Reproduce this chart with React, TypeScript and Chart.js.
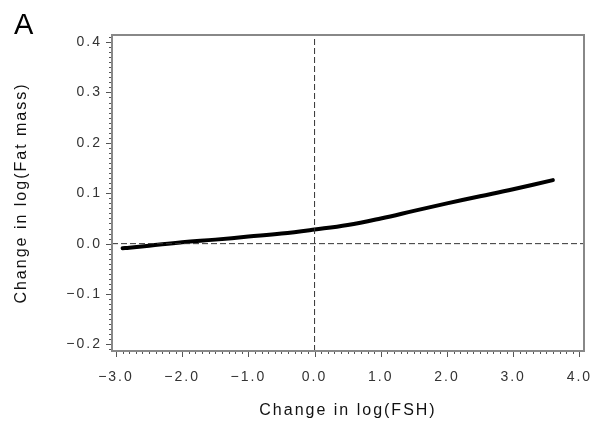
import React, { useEffect, useRef } from 'react';
import { Chart, registerables } from 'chart.js';

Chart.register(...registerables);

// Data
const fshChange = [-2.9, -2.8, -2.5, -2.0, -1.5, -1.0, -0.5, 0.0, 0.5, 1.0, 1.5, 2.0, 2.5, 3.0, 3.6];
const fatMassChange = [-0.009, -0.008, -0.004, 0.003, 0.008, 0.014, 0.020, 0.028, 0.037, 0.050, 0.065, 0.080, 0.094, 0.108, 0.126];
const xTicks = [-3, -2, -1, 0, 1, 2, 3, 4];
const yTicks = [-0.2, -0.1, 0, 0.1, 0.2, 0.3, 0.4];
const xRange = [-3.06, 4.07];
const yRange = [-0.213, 0.414];
const xMinorTicks = Array.from({ length: 71 }, (_, i) => (i - 30) / 10);
const yMinorTicks = Array.from({ length: 63 }, (_, i) => (i - 21) / 100);

const FONT = '"Liberation Sans", Arial, Helvetica, sans-serif';

const fmt = (v: number) => (v < -1e-9 ? '\u2212' : '') + Math.abs(v).toFixed(1);

const spacingPlugin = {
  id: 'spacing',
  beforeUpdate(chart: any) {
    chart.ctx.letterSpacing = '2px';
  },
  beforeDraw(chart: any) {
    chart.ctx.letterSpacing = '2px';
  },
};

const framePlugin = {
  id: 'frame',
  afterDraw(chart: any) {
    const { ctx, chartArea, scales } = chart;
    const { left, right, top, bottom } = chartArea;
    const x = scales.x;
    const y = scales.y;
    ctx.save();
    ctx.letterSpacing = '0px';
    ctx.strokeStyle = '#555';
    ctx.lineWidth = 1;
    ctx.beginPath();
    xMinorTicks.forEach((v) => {
      const px = Math.round(x.getPixelForValue(v)) + 0.5;
      const major = Math.abs(v - Math.round(v)) < 1e-9;
      ctx.moveTo(px, bottom);
      ctx.lineTo(px, bottom + (major ? 6 : 3));
    });
    yMinorTicks.forEach((v) => {
      const py = Math.round(y.getPixelForValue(v)) + 0.5;
      const major = Math.abs(v * 10 - Math.round(v * 10)) < 1e-9;
      ctx.moveTo(left, py);
      ctx.lineTo(left - (major ? 6 : 3), py);
    });
    ctx.stroke();
    ctx.strokeStyle = '#888';
    ctx.lineWidth = 2;
    ctx.strokeRect(left, top, right - left, bottom - top);
    ctx.font = '29px ' + FONT;
    ctx.fillStyle = '#000';
    ctx.textAlign = 'left';
    ctx.textBaseline = 'alphabetic';
    ctx.fillText('A', 14, 34);
    ctx.restore();
  },
};

export default function App() {
  const ref = useRef<HTMLCanvasElement | null>(null);
  useEffect(() => {
    if (!ref.current) return;
    const chart = new Chart(ref.current, {
      type: 'scatter',
      data: {
        datasets: [
          {
            data: [{ x: 0, y: yRange[0] }, { x: 0, y: yRange[1] }],
            showLine: true,
            borderColor: '#333',
            borderWidth: 1,
            borderDash: [6, 3],
            pointRadius: 0,
          },
          {
            data: [{ x: xRange[0], y: 0 }, { x: xRange[1], y: 0 }],
            showLine: true,
            borderColor: '#333',
            borderWidth: 1,
            borderDash: [6, 3],
            pointRadius: 0,
          },
          {
            data: fshChange.map((v, i) => ({ x: v, y: fatMassChange[i] })),
            showLine: true,
            borderColor: '#000',
            borderWidth: 4,
            tension: 0.4,
            pointRadius: 0,
            borderCapStyle: 'round',
          },
        ],
      },
      options: {
        responsive: false,
        animation: false,
        layout: { padding: { top: 35, right: 9, left: 0, bottom: 0 } },
        plugins: { legend: { display: false }, tooltip: { enabled: false } },
        scales: {
          x: {
            type: 'linear',
            min: xRange[0],
            max: xRange[1],
            afterBuildTicks: (s: any) => {
              s.ticks = xTicks.map((v) => ({ value: v }));
            },
            afterFit: (s: any) => {
              s.height = 71;
              s.paddingLeft = 0;
              s.paddingRight = 0;
            },
            grid: { display: false, drawTicks: false },
            border: { display: false },
            ticks: {
              padding: 18,
              color: '#333',
              font: { family: FONT, size: 14 },
              callback: (v: any) => fmt(Number(v)),
              maxRotation: 0,
              autoSkip: false,
            },
            title: {
              display: true,
              text: 'Change in log(FSH)',
              color: '#111',
              font: { family: FONT, size: 16 },
              padding: { top: 0, bottom: 2 },
            },
          },
          y: {
            type: 'linear',
            min: yRange[0],
            max: yRange[1],
            afterBuildTicks: (s: any) => {
              s.ticks = yTicks.map((v) => ({ value: v }));
            },
            afterFit: (s: any) => {
              s.width = 112;
              s.paddingTop = 0;
              s.paddingBottom = 0;
            },
            grid: { display: false, drawTicks: false },
            border: { display: false },
            ticks: {
              padding: 10,
              color: '#333',
              font: { family: FONT, size: 14 },
              callback: (v: any) => fmt(Number(v)),
              autoSkip: false,
            },
            title: {
              display: true,
              text: 'Change in log(Fat mass)',
              color: '#111',
              font: { family: FONT, size: 16 },
              padding: { top: 12, bottom: 0 },
            },
          },
        },
      } as any,
      plugins: [spacingPlugin, framePlugin],
    });
    return () => chart.destroy();
  }, []);
  return (
    <div style={{ position: 'absolute', left: 0, top: 0, width: 593, height: 422, background: '#fff' }}>
      <canvas ref={ref} width={593} height={422} style={{ display: 'block' }} />
    </div>
  );
}
